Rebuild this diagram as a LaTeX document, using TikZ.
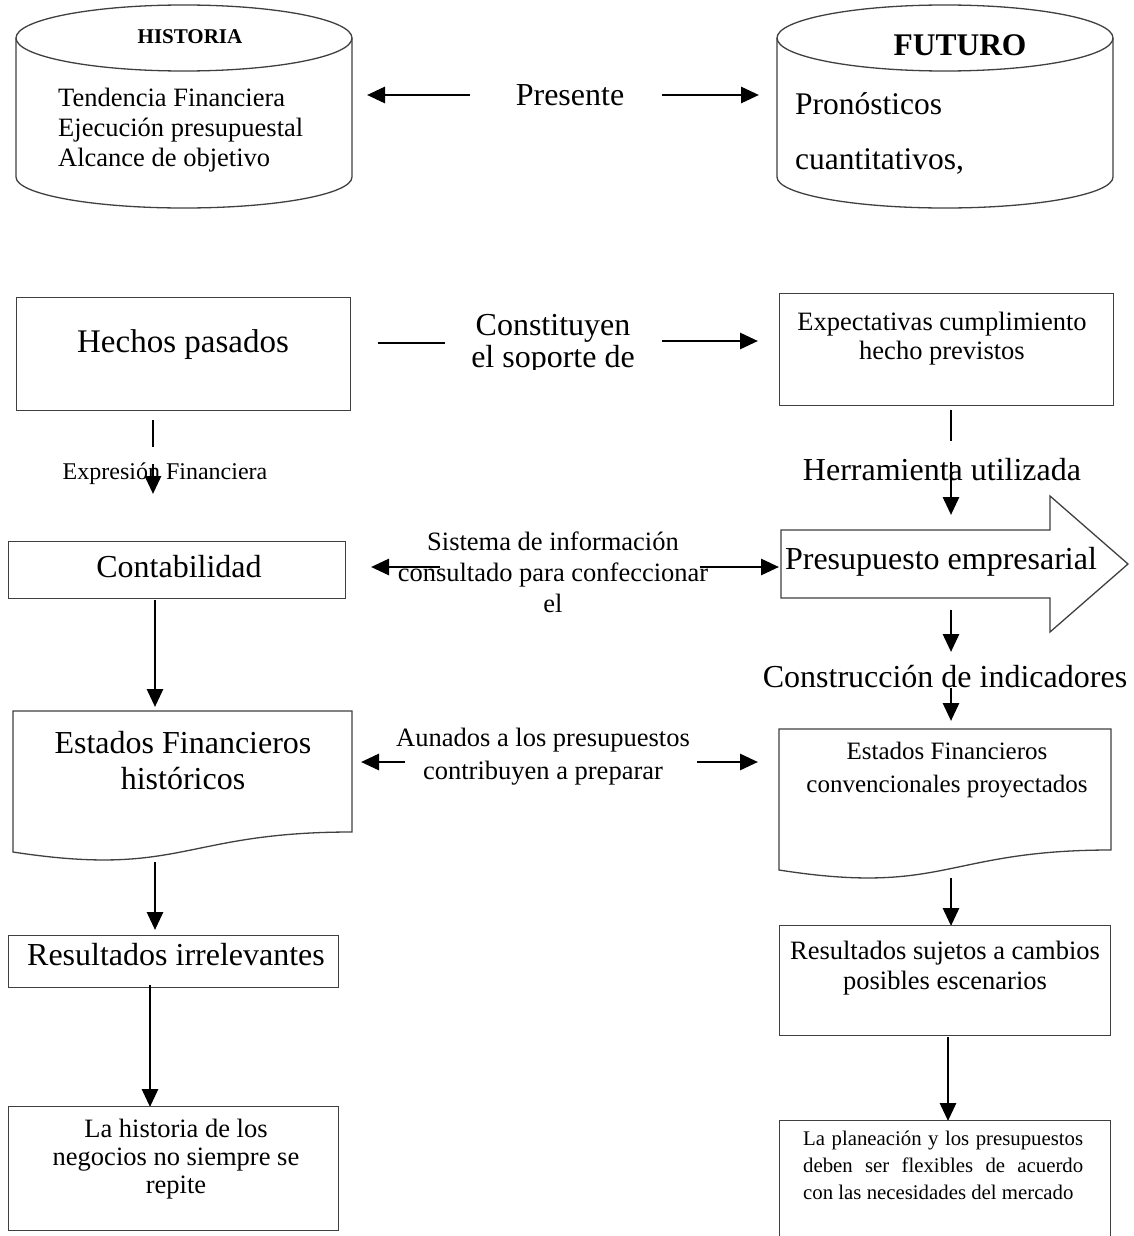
\documentclass[tikz,border=0pt]{standalone}
\usepackage{fontspec}
\setmainfont{Liberation Serif}
\usetikzlibrary{arrows.meta}
\newcommand{\fsz}[2]{\fontsize{#1}{#2}\selectfont}
\begin{document}
\begin{tikzpicture}[x=1pt,y=-1pt,
  outl/.style={draw=black!75, line width=1.3pt},
  rbox/.style={outl, inner sep=0pt, anchor=north west},
  ghost/.style={inner sep=0pt, anchor=north west},
  arr/.style={line width=2.9pt, -{Triangle[length=18pt,width=16pt]}},
  thinl/.style={line width=1.4pt},
  txt/.style={inner sep=0pt, align=center},
  big/.style={font=\fsz{32}{36}},
  mid/.style={font=\fsz{26.5}{30}},
]
\useasboundingbox (0,0) rectangle (1134,1236);
\fill[white] (0,0) rectangle (1134,1236);

% ---------- cylinders ----------
\node[ghost, minimum width=336pt, minimum height=203pt] (hist) at (16,5) {};
\draw[outl] (16,38) -- (16,177) arc[start angle=180,end angle=0,x radius=168,y radius=31] -- (352,38);
\draw[outl] (184,38) ellipse[x radius=168, y radius=33];
\node[txt, font=\fsz{21}{24}\bfseries] (histt) at (190,37) {HISTORIA};
\node[inner sep=0pt, anchor=west, align=left, mid] (histl) at (58,130)
  {Tendencia Financiera\\Ejecución presupuestal\\Alcance de objetivo};

\node[ghost, minimum width=336pt, minimum height=203pt] (fut) at (777,5) {};
\draw[outl] (777,38) -- (777,177) arc[start angle=180,end angle=0,x radius=168,y radius=31] -- (1113,38);
\draw[outl] (945,38) ellipse[x radius=168, y radius=33];
\node[txt, font=\fsz{31.5}{36}\bfseries] (futt) at (960,45) {FUTURO};
\node[inner sep=0pt, anchor=west, align=left, font=\fsz{31.5}{55}] (futl) at (795,133)
  {Pronósticos\\cuantitativos,};

\node[txt, big] (pres) at (570,95) {Presente};
\coordinate (p1) at (470,95); \coordinate (p1e) at (367,95);
\coordinate (p2) at (662,95); \coordinate (p2e) at (759,95);
\draw[arr] (p1) -- (p1e);
\draw[arr] (p2) -- (p2e);

% ---------- row 2 ----------
\node[rbox, minimum width=334pt, minimum height=113pt] (hechos) at (16,297) {};
\node[txt, font=\fsz{33}{36}] (hechost) at (183,345) {Hechos pasados};
\coordinate (c1) at (378,343); \coordinate (c1e) at (445,343);
\draw[thinl] (c1) -- (c1e);
\begin{scope}
  \clip (440,290) rectangle (670,369);
  \node[txt, font=\fsz{32}{32}] (const) at (553,344) {Constituyen\\el soporte de};
\end{scope}
\coordinate (c2) at (662,341); \coordinate (c2e) at (758,341);
\draw[arr] (c2) -- (c2e);
\node[rbox, minimum width=334pt, minimum height=112pt] (expec) at (779,293) {};
\node[txt, font=\fsz{26.5}{29}] (expect) at (942,339) {Expectativas cumplimiento\\hecho previstos};

% Hechos -> Contabilidad
\coordinate (h1) at (153,420); \coordinate (h1e) at (153,447);
\draw[thinl] (h1) -- (h1e);
\node[txt, font=\fsz{24}{28}] (expr) at (165,474) {Expresión Financiera};
\coordinate (h2) at (153,464); \coordinate (h2e) at (153,494);
\draw[arr] (h2) -- (h2e);

% Expectativas -> Presupuesto
\coordinate (e1) at (951,410); \coordinate (e1e) at (951,441);
\draw[thinl] (e1) -- (e1e);
\node[txt, big] (herr) at (942,470) {Herramienta utilizada};
\coordinate (e2) at (951,462); \coordinate (e2e) at (951,515);
\draw[arr] (e2) -- (e2e);

% ---------- row 3 ----------
\node[rbox, minimum width=337pt, minimum height=57pt] (conta) at (8,541) {};
\node[txt, big] (contat) at (179,567) {Contabilidad};
\node[txt, font=\fsz{26.5}{31}] (sist) at (553,572) {Sistema de información\\consultado para confeccionar\\el};
\coordinate (s1) at (440,567); \coordinate (s1e) at (371,567);
\draw[arr] (s1) -- (s1e);
\coordinate (s2) at (700,567); \coordinate (s2e) at (779,567);
\draw[arr] (s2) -- (s2e);

\node[ghost, minimum width=347pt, minimum height=136pt] (presu) at (781,496) {};
\draw[outl] (781,530) -- (1050,530) -- (1050,496) -- (1128,564) -- (1050,632) -- (1050,598) -- (781,598) -- cycle;
\node[txt, big] (presut) at (941,562) {Presupuesto empresarial};

\coordinate (u1) at (951,610); \coordinate (u1e) at (951,652);
\draw[arr] (u1) -- (u1e);
\node[txt, big] (constr) at (945,677) {Construcción de indicadores};
\coordinate (u2) at (951,688); \coordinate (u2e) at (951,721);
\draw[arr] (u2) -- (u2e);

% Contabilidad -> Estados
\coordinate (k1) at (155,600); \coordinate (k1e) at (155,707);
\draw[arr] (k1) -- (k1e);

% ---------- row 4 ----------
\node[ghost, minimum width=339pt, minimum height=151pt] (esth) at (13,711) {};
\draw[outl] (13,711) -- (352,711) -- (352,832) .. controls (182,832) and (182,878) .. (13,852) -- cycle;
\node[txt, font=\fsz{32}{36}] (estht) at (183,761) {Estados Financieros\\históricos};

\node[txt, font=\fsz{26.5}{33}] (aun) at (543,757) {Aunados a los presupuestos\\contribuyen a preparar};
\coordinate (a1) at (405,762); \coordinate (a1e) at (361,762);
\draw[arr] (a1) -- (a1e);
\coordinate (a2) at (697,762); \coordinate (a2e) at (758,762);
\draw[arr] (a2) -- (a2e);

\node[ghost, minimum width=332pt, minimum height=151pt] (estp) at (779,729) {};
\draw[outl] (779,729) -- (1111,729) -- (1111,850) .. controls (945,850) and (945,896) .. (779,870) -- cycle;
\node[txt, font=\fsz{25}{33}] (estpt) at (947,770) {Estados Financieros\\convencionales proyectados};

\coordinate (k2) at (155,862); \coordinate (k2e) at (155,930);
\draw[arr] (k2) -- (k2e);
\coordinate (r2) at (951,878); \coordinate (r2e) at (951,926);
\draw[arr] (r2) -- (r2e);

% ---------- row 5 ----------
\node[rbox, minimum width=330pt, minimum height=52pt] (resi) at (8,935) {};
\node[txt, big] (resit) at (176,955) {Resultados irrelevantes};
\coordinate (k3) at (150,985); \coordinate (k3e) at (150,1107);
\draw[arr] (k3) -- (k3e);
\node[rbox, minimum width=330pt, minimum height=124pt] (lahist) at (8,1106) {};
\node[txt, font=\fsz{26.5}{28}] (lahistt) at (176,1159) {La historia de los\\negocios no siempre se\\repite};

\node[rbox, minimum width=331pt, minimum height=110pt] (ress) at (779,925) {};
\node[txt, font=\fsz{26.5}{30}] (resst) at (945,968) {Resultados sujetos a cambios\\posibles escenarios};
\coordinate (r3) at (948,1037); \coordinate (r3e) at (948,1121);
\draw[arr] (r3) -- (r3e);
\node[rbox, minimum width=331pt, minimum height=150pt] (plan) at (779,1120) {};
\node[inner sep=0pt, anchor=north west, align=left, font=\fsz{20.8}{27}] (plant) at (803,1131)
  {\makebox[280pt][s]{La planeación y los presupuestos}\\
   \makebox[280pt][s]{deben ser flexibles de acuerdo}\\
   con las necesidades del mercado};
\end{tikzpicture}
\end{document}
